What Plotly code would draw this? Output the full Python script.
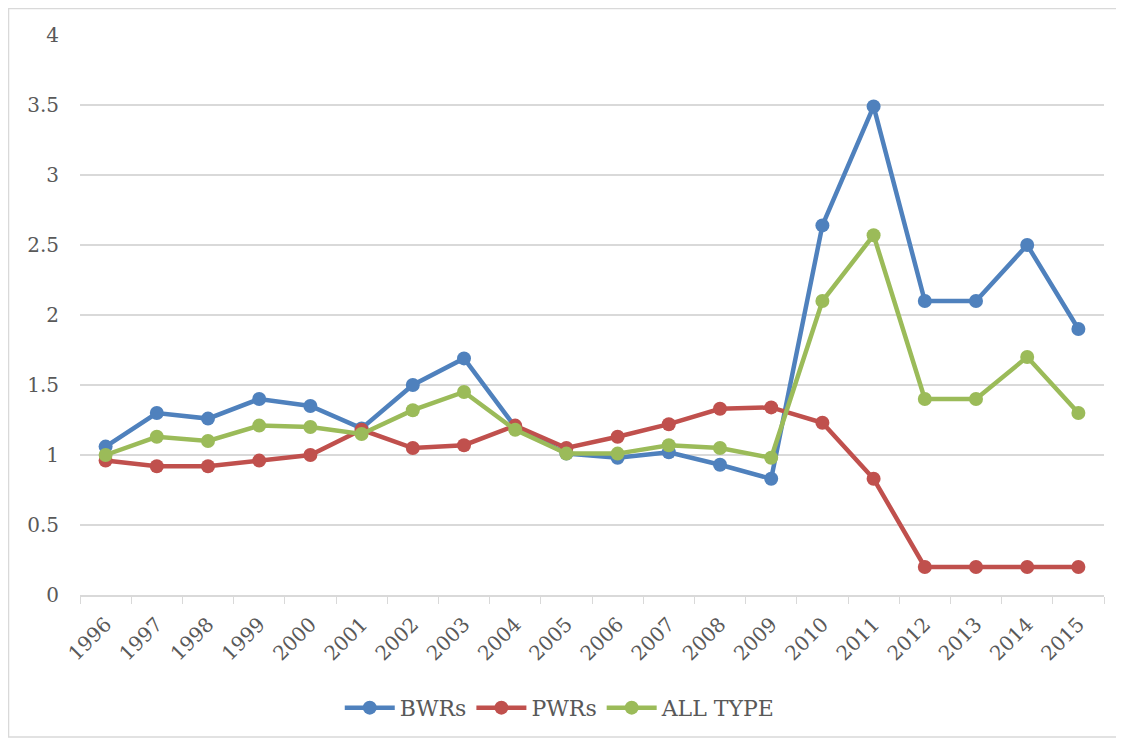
import plotly.graph_objects as go

years = [str(y) for y in range(1996, 2016)]
bwrs = [1.06, 1.30, 1.26, 1.40, 1.35, 1.19, 1.50, 1.69, 1.20, 1.01, 0.98, 1.02, 0.93, 0.83, 2.64, 3.49, 2.10, 2.10, 2.50, 1.90]
pwrs = [0.96, 0.92, 0.92, 0.96, 1.00, 1.18, 1.05, 1.07, 1.21, 1.05, 1.13, 1.22, 1.33, 1.34, 1.23, 0.83, 0.20, 0.20, 0.20, 0.20]
all_type = [1.00, 1.13, 1.10, 1.21, 1.20, 1.15, 1.32, 1.45, 1.18, 1.01, 1.01, 1.07, 1.05, 0.98, 2.10, 2.57, 1.40, 1.40, 1.70, 1.30]

series = [("BWRs", bwrs, "#4F81BD"), ("PWRs", pwrs, "#C0504D"), ("ALL TYPE", all_type, "#9BBB59")]

font_family = "DejaVu Serif"

fig = go.Figure()
for name, vals, color in series:
    fig.add_trace(go.Scatter(
        x=years, y=vals, name=name, mode="lines+markers",
        line=dict(color=color, width=4.5),
        marker=dict(color=color, size=14),
    ))

fig.update_layout(
    width=1116, height=734,
    margin=dict(l=72, r=20, t=27, b=147),
    plot_bgcolor="white", paper_bgcolor="white",
    font=dict(family=font_family, size=20, color="#595959"),
    showlegend=True,
    legend=dict(orientation="h", x=0.469, xanchor="center", y=-0.164, yanchor="top",
                font=dict(size=22, color="#595959"), itemwidth=50),
    xaxis=dict(type="category", tickangle=-45, showgrid=False,
               showline=True, linecolor="#D9D9D9", linewidth=1.5,
               ticks="outside", tickson="boundaries", ticklen=7, tickcolor="#D9D9D9",
               tickfont=dict(size=20, color="#595959"), range=[-0.5, 19.5],
               ticklabelstandoff=8),
    yaxis=dict(range=[0, 4], dtick=0.5, showgrid=True, gridcolor="#D9D9D9", gridwidth=1.5,
               zeroline=False, showline=False, ticks="",
               tickfont=dict(size=20, color="#595959"), ticklabelstandoff=20),
    shapes=[dict(type="rect", xref="paper", yref="paper",
                 x0=-0.0698, x1=1.0127, y0=-0.2536, y1=1.0473,
                 line=dict(color="#D9D9D9", width=1.5), fillcolor="rgba(0,0,0,0)", layer="below")],
)

fig.write_html("out.html")
